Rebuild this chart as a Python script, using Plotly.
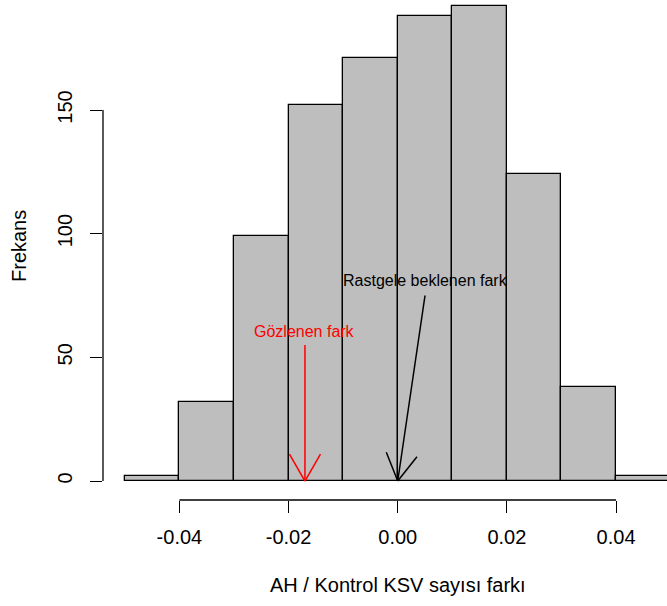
import math
import plotly.graph_objects as go

# ---- data ----
bin_left = [-0.05, -0.04, -0.03, -0.02, -0.01, 0.00, 0.01, 0.02, 0.03, 0.04]
bin_width = 0.01
counts = [2, 32, 99, 152, 171, 188, 192, 124, 38, 2]

x_ticks = [-0.04, -0.02, 0.00, 0.02, 0.04]
x_ticklabels = ["-0.04", "-0.02", "0.00", "0.02", "0.04"]
y_ticks = [0, 50, 100, 150]
y_ticklabels = ["0", "50", "100", "150"]

observed_diff = -0.017
observed_arrow_top = 55
observed_label_y = 60.5
observed_label = "Gözlenen fark"

random_diff = 0.0
random_arrow_start = (0.005, 75)
random_label_y = 81
random_label = "Rastgele beklenen fark"

x_title = "AH / Kontrol KSV sayısı farkı"
y_title = "Frekans"

# ---- geometry ----
W, H = 667, 606
ML, MR, MT, MB = 103, 0, 0, 106
PW, PH = W - ML - MR, H - MT - MB
xr = [-0.054, -0.054 + PW / 5458.0]
yr = [-7.68, -7.68 + PH / 2.4733]
ppx = PW / (xr[1] - xr[0])
ppy = PH / (yr[1] - yr[0])

FONT = "Liberation Sans, Arial, Helvetica, sans-serif"

fig = go.Figure()

centers = [b + bin_width / 2 for b in bin_left]
fig.add_trace(go.Bar(
    x=centers, y=counts, width=[bin_width] * len(counts),
    marker=dict(color="#BEBEBE", line=dict(color="black", width=1.3)),
    showlegend=False, hoverinfo="skip",
))


def arrow_xy(x0, y0, x1, y1, length=31, ang=30):
    dx = (x1 - x0) * ppx
    dy = (y1 - y0) * ppy
    a = math.atan2(dy, dx)
    xs = [x0, x1, None]
    ys = [y0, y1, None]
    for s in (1, -1):
        aa = a + s * math.radians(ang)
        hx = x1 - length * math.cos(aa) / ppx
        hy = y1 - length * math.sin(aa) / ppy
        xs += [hx, x1, None]
        ys += [hy, y1, None]
    return xs, ys


xs, ys = arrow_xy(observed_diff, observed_arrow_top, observed_diff, 0)
fig.add_trace(go.Scatter(x=xs, y=ys, mode="lines",
                         line=dict(color="#FF0000", width=1.5),
                         showlegend=False, hoverinfo="skip"))
xs, ys = arrow_xy(random_arrow_start[0], random_arrow_start[1], random_diff, 0)
fig.add_trace(go.Scatter(x=xs, y=ys, mode="lines",
                         line=dict(color="black", width=1.5),
                         showlegend=False, hoverinfo="skip"))

annotations = [
    dict(x=observed_diff, y=observed_label_y, xref="x", yref="y",
         text=observed_label, showarrow=False,
         font=dict(family=FONT, size=16, color="#FF0000"),
         xanchor="center", yanchor="middle"),
    dict(x=random_arrow_start[0], y=random_label_y, xref="x", yref="y",
         text=random_label, showarrow=False,
         font=dict(family=FONT, size=16, color="black"),
         xanchor="center", yanchor="middle"),
    dict(x=0, y=(PH - 585) / PH, xref="x", yref="paper",
         text=x_title, showarrow=False,
         font=dict(family=FONT, size=20, color="black"),
         xanchor="center", yanchor="middle"),
    dict(x=(19 - ML) / PW, y=(PH - 246) / PH, xref="paper", yref="paper",
         text=y_title, showarrow=False, textangle=-90,
         font=dict(family=FONT, size=20, color="black"),
         xanchor="center", yanchor="middle"),
]

shapes = [
    dict(type="line", xref="x", yref="paper", x0=x_ticks[0], x1=x_ticks[-1],
         y0=0, y1=0, line=dict(color="black", width=1.3)),
    dict(type="line", xref="paper", yref="y", x0=0, x1=0,
         y0=y_ticks[0], y1=y_ticks[-1], line=dict(color="black", width=1.3)),
]

fig.update_layout(
    width=W, height=H,
    margin=dict(l=ML, r=MR, t=MT, b=MB, pad=0),
    paper_bgcolor="white", plot_bgcolor="white",
    bargap=0, showlegend=False,
    font=dict(family=FONT, size=20, color="black"),
    annotations=annotations, shapes=shapes,
    xaxis=dict(range=xr, showgrid=False, zeroline=False, showline=False,
               tickmode="array", tickvals=x_ticks, ticktext=x_ticklabels,
               ticks="outside", ticklen=12, tickwidth=1.3, tickcolor="black",
               tickfont=dict(family=FONT, size=20, color="black"),
               ticklabelstandoff=7, fixedrange=True),
    yaxis=dict(range=yr, showgrid=False, zeroline=False, showline=False,
               tickmode="array", tickvals=y_ticks, ticktext=y_ticklabels,
               ticks="outside", ticklen=12, tickwidth=1.3, tickcolor="black",
               tickangle=-90,
               tickfont=dict(family=FONT, size=20, color="black"),
               ticklabelstandoff=10, fixedrange=True),
)

fig.write_html("out.html")
